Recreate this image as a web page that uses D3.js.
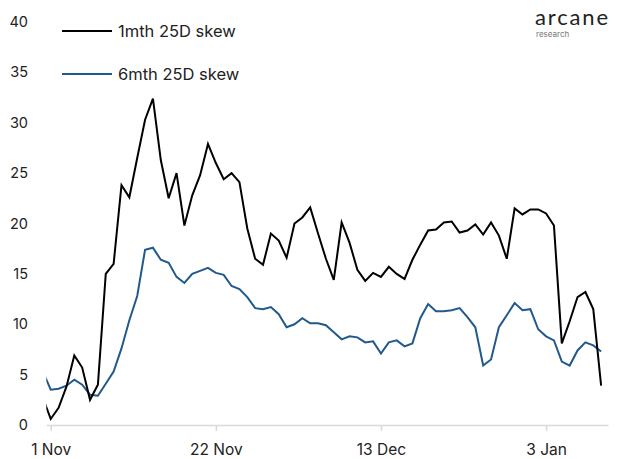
<!DOCTYPE html>
<head>
    <meta charset="utf-8">
    <title>25D skew</title>
    <script src="https://d3js.org/d3.v7.min.js"></script>
    <style>
        body { margin: 0; background: #fff; }
        text { font-family: Inter, "Open Sans", sans-serif; fill: #222; }
    </style>
</head>
<body>
    <div id="container"></div>
    <script>
        //----------------------------DATA------------------------------//
        // daily values, 31 Oct 2021 .. 10 Jan 2022 (first one sits left of the plot edge)
        var seriesNames = ["1mth 25D skew", "6mth 25D skew"];
        var skew1m = [2.7,
            0.6, 1.7, 3.8, 6.9, 5.7, 2.5, 4.0, 15.0, 16.0, 23.8,
            22.6, 26.5, 30.3, 32.4, 26.3, 22.5, 25.0, 19.8, 22.8, 24.8,
            27.9, 26.0, 24.4, 25.0, 24.1, 19.5, 16.5, 15.9, 19.0, 18.3,
            16.6, 20.0, 20.6, 21.6, 19.0, 16.5, 14.4, 20.1, 18.1, 15.4,
            14.3, 15.1, 14.7, 15.7, 15.0, 14.5, 16.4, 17.9, 19.3, 19.4,
            20.1, 20.2, 19.1, 19.3, 19.9, 18.9, 20.1, 18.8, 16.5, 21.5, 20.9,
            21.4, 21.4, 21.0, 19.8, 8.1, 10.3, 12.7, 13.2, 11.5, 3.9];
        var skew6m = [5.3,
            3.5, 3.6, 3.9, 4.5, 4.0, 3.0, 2.9, 4.1, 5.3, 7.6,
            10.4, 12.8, 17.4, 17.6, 16.4, 16.1, 14.7, 14.1, 15.0, 15.3,
            15.6, 15.1, 14.9, 13.8, 13.5, 12.7, 11.6, 11.5, 11.7, 11.0,
            9.7, 10.0, 10.6, 10.1, 10.1, 9.9, 9.2, 8.5, 8.8, 8.7,
            8.2, 8.3, 7.1, 8.2, 8.4, 7.8, 8.1, 10.6, 12.0, 11.3,
            11.3, 11.4, 11.6, 10.7, 9.7, 5.9, 6.5, 9.7, 10.9, 12.1, 11.4,
            11.5, 9.5, 8.8, 8.4, 6.3, 5.9, 7.4, 8.2, 7.9, 7.3];
        var dates = d3.utcDays(new Date(Date.UTC(2021, 9, 31)), new Date(Date.UTC(2022, 0, 11)));
        var xTickDates = [new Date(Date.UTC(2021, 10, 1)), new Date(Date.UTC(2021, 10, 22)),
            new Date(Date.UTC(2021, 11, 13)), new Date(Date.UTC(2022, 0, 3))];
        var yTicks = [0, 5, 10, 15, 20, 25, 30, 35, 40];
        var colors = ["#000000", "#22598c"];

        //----------------------------SVG-------------------------------//
        var width = 619, height = 459;
        var plot = { left: 46.3, right: 608, top: 0, bottom: 425 };

        var svg = d3.select("#container").append("svg")
            .attr("width", width)
            .attr("height", height);

        var xScale = d3.scaleUtc()
            .domain([new Date(Date.UTC(2021, 9, 31, 10, 30)), new Date(Date.UTC(2022, 0, 10, 21))])
            .range([plot.left, plot.right]);
        var yScale = d3.scaleLinear().domain([0, 40]).range([425, 22]);

        svg.append("clipPath").attr("id", "plotclip")
            .append("rect")
            .attr("x", plot.left).attr("y", 0)
            .attr("width", plot.right - plot.left).attr("height", height);

        //----------------------------AXES------------------------------//
        svg.append("g").selectAll("text")
            .data(yTicks)
            .enter().append("text")
            .attr("x", 28)
            .attr("y", function (d) { return yScale(d); })
            .attr("dy", "0.35em")
            .style("text-anchor", "end")
            .style("font-size", "14.5px")
            .text(function (d) { return d; });

        var xaxis = d3.axisBottom(xScale)
            .tickValues(xTickDates)
            .tickSizeInner(6)
            .tickSizeOuter(0)
            .tickPadding(13)
            .tickFormat(d3.utcFormat("%-d %b"));

        var gx = svg.append("g")
            .attr("transform", "translate(0," + 425 + ")")
            .call(xaxis);
        gx.select(".domain").attr("stroke", "#d9d9d9").attr("stroke-width", 1.5);
        gx.selectAll(".tick line").attr("stroke", "#d9d9d9").attr("stroke-width", 1.5);
        gx.selectAll(".tick text")
            .style("font-size", "15.5px")
            .style("font-family", "Inter, 'Open Sans', sans-serif")
            .attr("fill", "#222");

        //----------------------------LINES-----------------------------//
        var line = d3.line()
            .x(function (d, i) { return xScale(dates[i]); })
            .y(function (d) { return yScale(d); });

        var lines = svg.append("g").attr("clip-path", "url(#plotclip)");
        [skew6m, skew1m].forEach(function (s, k) {
            lines.append("path")
                .attr("d", line(s))
                .style("fill", "none")
                .style("stroke", colors[1 - k])
                .style("stroke-width", "2px")
                .style("stroke-linejoin", "miter");
        });

        //----------------------------LEGEND----------------------------//
        var legend = svg.selectAll(".legend")
            .data(seriesNames)
            .enter().append("g")
            .attr("class", "legend")
            .attr("transform", function (d, i) { return "translate(62," + (31 + i * 43) + ")"; });

        legend.append("line")
            .attr("x1", 0).attr("x2", 50)
            .attr("stroke", function (d, i) { return colors[i]; })
            .attr("stroke-width", 2);

        legend.append("text")
            .attr("x", 56)
            .attr("dy", "0.35em")
            .style("font-size", "16.5px")
            .text(function (d) { return d; });

        //----------------------------LOGO------------------------------//
        svg.append("text")
            .attr("x", 535).attr("y", 25)
            .attr("textLength", 73)
            .style("font-size", "22px")
            .style("font-family", "Lato, Inter, sans-serif")
            .attr("fill", "#111")
            .text("arcane");
        svg.append("text")
            .attr("x", 536).attr("y", 37)
            .style("font-size", "8px")
            .style("fill", "#777")
            .text("research");
    </script>
</body>
